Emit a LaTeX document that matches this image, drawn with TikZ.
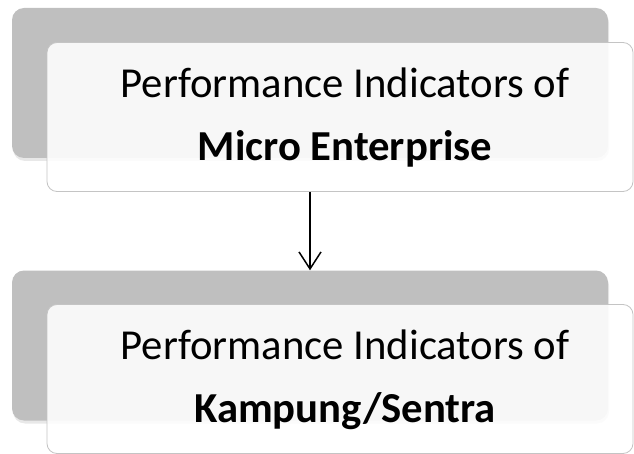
\documentclass[tikz,border=0pt]{standalone}
\usepackage{fontspec}
\setmainfont{Carlito}
\usetikzlibrary{arrows.meta,shadows}
\definecolor{backgray}{HTML}{BFBFBF}
\definecolor{edgegray}{HTML}{C4C4C4}
\begin{document}
\begin{tikzpicture}[x=1pt, y=-1pt,
  back/.style={fill=backgray, rounded corners=12pt, minimum width=596pt, minimum height=150pt, inner sep=0pt,
    drop shadow={opacity=0.18, shadow xshift=1pt, shadow yshift=-3pt}},
  front/.style={draw=edgegray, line width=0.8pt, fill=white, fill opacity=0.88, rounded corners=10pt,
    minimum width=586pt, minimum height=149pt, inner sep=0pt},
  caption/.style={align=center, inner sep=0pt, font=\fontsize{42.7}{63.5}\selectfont}]
\useasboundingbox (0,0) rectangle (634,454);
\node[back] (mgray) at (310,83) {};
\node[front] (mwhite) at (340,117) {};
\node[caption] (mtext) at (345,117.5) {Performance Indicators of\\\textbf{Micro Enterprise}};
\node[back] (kgray) at (310,345.5) {};
\node[front] (kwhite) at (340,379) {};
\node[caption] (ktext) at (345,380) {Performance Indicators of\\\textbf{Kampung/Sentra}};
\draw[line width=1.5pt, -{Straight Barb[length=17pt, width=22pt, line width=1.5pt]}] (mgray |- mwhite.south) -- (kgray.north);
\end{tikzpicture}
\end{document}
